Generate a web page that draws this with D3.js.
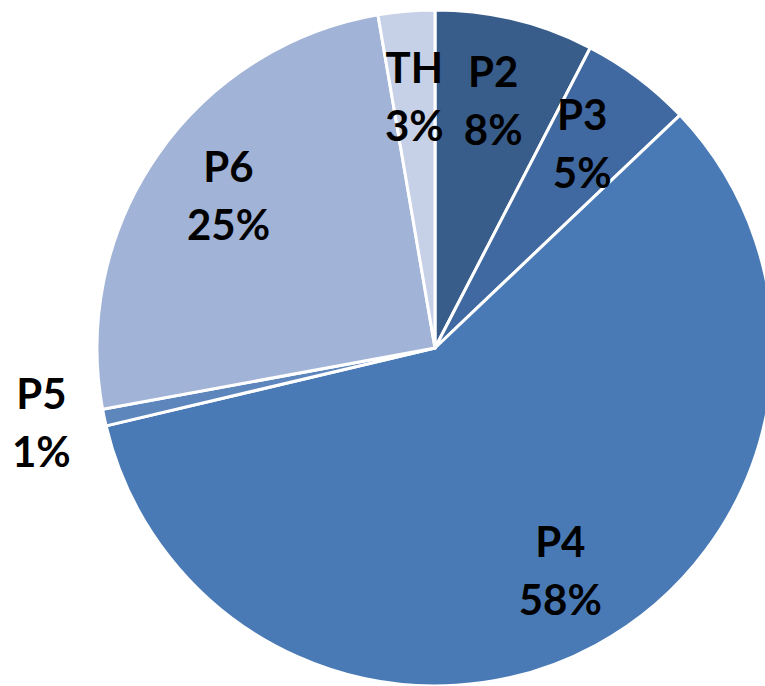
<!DOCTYPE html>
<html><head><meta charset="utf-8">
<script src="https://cdn.jsdelivr.net/npm/d3@7"></script>
<style>html,body{margin:0;padding:0;background:#fff;overflow:hidden}</style>
</head><body>
<svg id="c" width="765" height="686"></svg>
<script>
const categories = ["P2", "P3", "P4", "P5", "P6", "TH"];
const values = [7.6, 5.3, 58.4, 0.8, 25.2, 2.7];
const labels = ["8%", "5%", "58%", "1%", "25%", "3%"];
const colors = ["#395d8b", "#4069a1", "#4a7ab5", "#5d86bd", "#a1b3d6", "#c6d0e6"];

const svg = d3.select("#c");
const cx = 435, cy = 348, r = 338;
const g = svg.append("g").attr("transform", `translate(${cx},${cy})`);
const data = categories.map((c, i) => ({cat: c, v: values[i], lab: labels[i], col: colors[i]}));
const total = d3.sum(values);
const pie = d3.pie().value(d => d.v).sort(null);
const arcs = pie(data);
const arc = d3.arc().innerRadius(0).outerRadius(r);
g.selectAll("path").data(arcs).enter().append("path")
  .attr("d", arc).attr("fill", d => d.data.col)
  .attr("stroke", "#fff").attr("stroke-width", 3).attr("stroke-linejoin", "round");

function labelPos(d) {
  const f = d.data.v / total;
  const k = f < 0.02 ? 1.19 : 0.72 + 0.1 * f;
  return d3.arc().innerRadius(r * k).outerRadius(r * k).centroid(d);
}
const lg = g.selectAll("text").data(arcs).enter().append("text")
  .attr("transform", d => {
    const p = labelPos(d);
    return `translate(${p[0]},${p[1]})`;
  })
  .attr("text-anchor", "middle")
  .style("font-family", "Lato, 'Open Sans', sans-serif")
  .style("font-weight", "bold")
  .style("font-size", "42px")
  .attr("fill", "#000");
lg.append("tspan").attr("x", 0).attr("y", -22).text(d => d.data.cat);
lg.append("tspan").attr("x", 0).attr("y", 36).text(d => d.data.lab);
</script>
</body></html>
